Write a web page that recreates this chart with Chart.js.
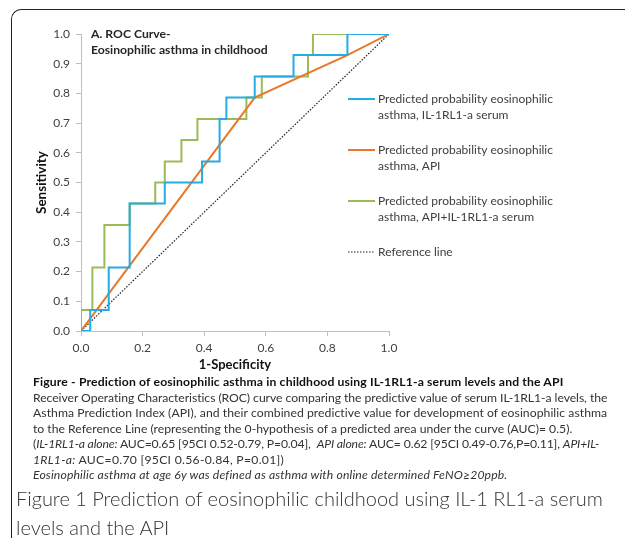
<!DOCTYPE html>
<html>
<head>
<meta charset="utf-8">
<script src="https://cdn.jsdelivr.net/npm/chart.js@4"></script>
<style>
  body { margin: 0; background: #fff; width: 625px; height: 544px; overflow: hidden; position: relative; font-family: Lato, "Open Sans", sans-serif; }
  #frame { position: absolute; left: 11px; top: 9px; width: 640px; height: 528px; border-top: 1.5px solid #222; border-left: 1.5px solid #222; border-top-left-radius: 10px; }
  #chart { position: absolute; left: 0; top: 0; }
  #note { position: absolute; left: 33px; top: 374px; font-size: 12.2px; line-height: 15.5px; color: #333; white-space: nowrap; }
  #note div { height: 15.5px; }
  #note b { color: #111; }
  #caption { position: absolute; left: 16px; top: 484px; font-size: 20px; line-height: 29px; font-weight: 300; color: #333; white-space: nowrap; }
</style>
</head>
<body>
<div id="frame"></div>
<canvas id="chart" width="625" height="378"></canvas>
<div id="note">
<div style="letter-spacing:0.14px"><b>Figure - Prediction of eosinophilic asthma in childhood using IL-1RL1-a serum levels and the API</b></div>
<div style="letter-spacing:-0.06px">Receiver Operating Characteristics (ROC) curve comparing the predictive value of serum IL-1RL1-a levels, the</div>
<div style="letter-spacing:0.05px">Asthma Prediction Index (API), and their combined predictive value for development of eosinophilic asthma</div>
<div>to the Reference Line (representing the 0-hypothesis of a predicted area under the curve (AUC)= 0.5).</div>
<div style="letter-spacing:-0.14px">(<i>IL-1RL1-a alone:</i> AUC=0.65 [95CI 0.52-0.79, P=0.04], &nbsp;<i>API alone:</i> AUC= 0.62 [95CI 0.49-0.76,P=0.11], <i>API+IL-</i></div>
<div style="letter-spacing:0.28px"><i>1RL1-a:</i> AUC=0.70 [95CI 0.56-0.84, P=0.01])</div>
<div style="letter-spacing:0.15px"><i>Eosinophilic asthma at age 6y was defined as asthma with online determined FeNO≥20ppb.</i></div>
</div>
<div id="caption">Figure 1 Prediction of eosinophilic childhood using IL-1 RL1-a serum<br>levels and the API</div>
<script>
// corner points of each ROC curve (1-specificity, sensitivity)
const il1X = [0, 0.03, 0.09, 0.158, 0.272, 0.393, 0.45, 0.472, 0.564, 0.69, 0.865, 1];
const il1Y = [0, 0.071, 0.214, 0.429, 0.5, 0.571, 0.714, 0.786, 0.857, 0.929, 1, 1];

const apiX = [0, 0.564, 0.865, 1];
const apiY = [0, 0.786, 0.929, 1];

const comboX = [0, 0, 0.037, 0.076, 0.158, 0.241, 0.272, 0.326, 0.378, 0.537, 0.587, 0.737, 0.753, 1];
const comboY = [0, 0.071, 0.214, 0.357, 0.429, 0.5, 0.571, 0.643, 0.714, 0.786, 0.857, 0.929, 1, 1];

const refX = [0, 1];
const refY = [0, 1];

const titleLines = ['A. ROC Curve-', 'Eosinophilic asthma in childhood'];
const legendLabels = [
    ['Predicted probability eosinophilic', 'asthma, IL-1RL1-a serum'],
    ['Predicted probability eosinophilic', 'asthma, API'],
    ['Predicted probability eosinophilic', 'asthma, API+IL-1RL1-a serum'],
    ['Reference line']
];
const legendY = [99, 150, 201, 252];

const FONT = 'Lato, "Open Sans", sans-serif';

function toPoints(xs, ys) {
    return xs.map((x, i) => ({ x: x, y: ys[i] }));
}

// title + legend drawn on top of the canvas
const overlay = {
    id: 'overlay',
    afterDraw(chart) {
        const ctx = chart.ctx;
        ctx.save();
        ctx.textBaseline = 'middle';
        ctx.fillStyle = '#262626';
        ctx.font = 'bold 12.2px ' + FONT;
        titleLines.forEach((t, i) => ctx.fillText(t, 91, 34 + i * 16));

        ctx.font = '12px ' + FONT;
        ctx.fillStyle = '#404040';
        chart.data.datasets.forEach((ds, i) => {
            const y = legendY[i];
            ctx.strokeStyle = ds.borderColor;
            ctx.lineWidth = ds.borderWidth;
            ctx.setLineDash(ds.borderDash || []);
            ctx.beginPath();
            ctx.moveTo(348, y);
            ctx.lineTo(375, y);
            ctx.stroke();
            ctx.setLineDash([]);
            legendLabels[i].forEach((t, j) => ctx.fillText(t, 378, y + j * 16));
        });
        ctx.restore();
    }
};

new Chart(document.getElementById('chart'), {
    type: 'scatter',
    data: {
        datasets: [
            { label: 'IL-1RL1-a', data: toPoints(il1X, il1Y), showLine: true, stepped: 'before', borderColor: '#25ACE2', borderWidth: 2, pointRadius: 0 },
            { label: 'API', data: toPoints(apiX, apiY), showLine: true, borderColor: '#E8792A', borderWidth: 2, pointRadius: 0 },
            { label: 'API+IL-1RL1-a', data: toPoints(comboX, comboY), showLine: true, stepped: 'before', borderColor: '#9BBB59', borderWidth: 2, pointRadius: 0 },
            { label: 'Reference line', data: toPoints(refX, refY), showLine: true, borderColor: '#222', borderWidth: 1.2, borderDash: [1.5, 1.5], pointRadius: 0 }
        ]
    },
    options: {
        responsive: false,
        animation: false,
        layout: { padding: { left: 34, right: 236, top: 34, bottom: 5 } },
        plugins: { legend: { display: false }, tooltip: { enabled: false } },
        scales: {
            x: {
                type: 'linear', min: 0, max: 1,
                afterFit: s => { s.height = 42; },
                ticks: { stepSize: 0.2, padding: 5, color: '#404040', font: { size: 12, family: FONT }, callback: v => v.toFixed(1) },
                grid: { drawOnChartArea: false, tickLength: 5, color: '#bfbfbf' },
                border: { color: '#bfbfbf' },
                title: { display: true, text: '1-Specificity', color: '#111', padding: 0, font: { size: 13, weight: 'bold', family: FONT } }
            },
            y: {
                type: 'linear', min: 0, max: 1,
                afterFit: s => { s.width = 47; },
                ticks: { stepSize: 0.1, padding: 6, color: '#404040', font: { size: 12, family: FONT }, callback: v => v.toFixed(1) },
                grid: { drawOnChartArea: false, tickLength: 5, color: '#bfbfbf' },
                border: { color: '#bfbfbf' },
                title: { display: true, text: 'Sensitivity', color: '#111', padding: 0, font: { size: 13.5, weight: 'bold', family: FONT } }
            }
        }
    },
    plugins: [overlay]
});
</script>
</body>
</html>
